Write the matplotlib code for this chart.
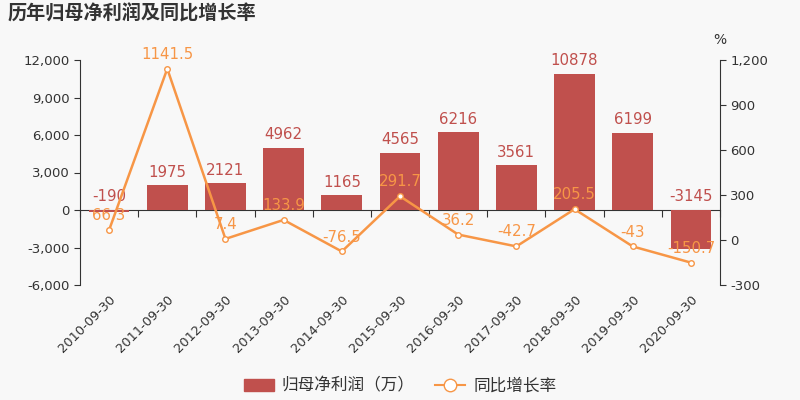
import matplotlib
matplotlib.use("Agg")
import matplotlib.pyplot as plt
import numpy as np
from matplotlib.patches import Patch
from matplotlib.lines import Line2D

plt.rcParams['font.family'] = ['DejaVu Sans', 'Noto Sans CJK SC']

dates = ["2010-09-30", "2011-09-30", "2012-09-30", "2013-09-30", "2014-09-30",
         "2015-09-30", "2016-09-30", "2017-09-30", "2018-09-30", "2019-09-30", "2020-09-30"]
profit = [-190, 1975, 2121, 4962, 1165, 4565, 6216, 3561, 10878, 6199, -3145]
growth = [66.3, 1141.5, 7.4, 133.9, -76.5, 291.7, 36.2, -42.7, 205.5, -43, -150.7]
profit_labels = ["-190", "1975", "2121", "4962", "1165", "4565", "6216", "3561", "10878", "6199", "-3145"]
growth_labels = ["66.3", "1141.5", "7.4", "133.9", "-76.5", "291.7", "36.2", "-42.7", "205.5", "-43", "-150.7"]

bar_color = "#c0504d"
line_color = "#f79646"
bg = "#f8f8f8"
txt = "#333333"

fig = plt.figure(figsize=(8, 4), dpi=100, facecolor=bg)
ax = fig.add_axes([0.1, 0.2875, 0.8, 0.5625])
ax.set_facecolor(bg)
x = np.arange(len(dates))

ax.bar(x, profit, width=0.7, color=bar_color, zorder=2)
ax.set_ylim(-6000, 12000)
ax.set_yticks(np.arange(-6000, 12001, 3000))
ax.set_yticklabels([f"{v:,}" for v in range(-6000, 12001, 3000)], fontsize=9.5, color=txt)
ax.set_xlim(-0.5, len(dates) - 0.5)
ax.set_xticks(x)
ax.set_xticklabels(dates, rotation=45, ha='right', rotation_mode='anchor', fontsize=9.3, color=txt)
ax.tick_params(axis='x', length=0, pad=6)
ax.tick_params(axis='y', colors=txt, labelcolor=txt, length=4)
for s in ['top', 'right', 'bottom']:
    ax.spines[s].set_visible(False)
ax.spines['left'].set_color(txt)

sec = ax.secondary_xaxis(6000 / 18000)
sec.set_xticks(np.arange(-0.5, len(dates) + 0.5, 1.0))
sec.set_xticklabels([])
sec.tick_params(axis='x', direction='out', length=5, color=txt)
sec.spines['bottom'].set_color(txt)

for xi, v, lab in zip(x, profit, profit_labels):
    y = max(v, 0)
    ax.annotate(lab, (xi, y), xytext=(0, 4), textcoords='offset points',
                ha='center', va='bottom', color=bar_color, fontsize=10.8, zorder=5)

ax2 = ax.twinx()
ax2.set_ylim(-300, 1200)
ax2.set_yticks(np.arange(-300, 1201, 300))
ax2.set_yticklabels([f"{v:,}" for v in range(-300, 1201, 300)], fontsize=9.5, color=txt)
ax2.tick_params(axis='y', colors=txt, labelcolor=txt, length=4)
for s in ['top', 'left', 'bottom']:
    ax2.spines[s].set_visible(False)
ax2.spines['right'].set_color(txt)
ax2.plot(x, growth, color=line_color, lw=1.8, marker='o', markersize=4,
         markerfacecolor='white', markeredgecolor=line_color, markeredgewidth=1, zorder=3)
for xi, v, lab in zip(x, growth, growth_labels):
    ax2.annotate(lab, (xi, v), xytext=(0, 5), textcoords='offset points',
                 ha='center', va='bottom', color=line_color, fontsize=10.8, zorder=5)

fig.text(0.01, 0.965, "历年归母净利润及同比增长率", fontsize=13.8, fontweight='bold',
         color=txt, family=['Noto Sans CJK SC', 'DejaVu Sans'], va='center', ha='left')
fig.text(0.9, 0.9, "%", fontsize=10, color=txt, ha='center', va='center')

handles = [Patch(facecolor=bar_color, edgecolor=bar_color),
           Line2D([0], [0], color=line_color, lw=1.5, marker='o', markersize=9,
                  markerfacecolor='white', markeredgecolor=line_color)]
leg = fig.legend(handles, ["归母净利润（万）", "同比增长率"], loc='center', bbox_to_anchor=(0.5, 0.035),
                 ncol=2, frameon=False, prop={'family': ['Noto Sans CJK SC', 'DejaVu Sans'], 'size': 12},
                 handlelength=1.8, columnspacing=1.2, handletextpad=0.5)
for t in leg.get_texts():
    t.set_color(txt)

fig.savefig("out.png", dpi=100, facecolor=bg)
